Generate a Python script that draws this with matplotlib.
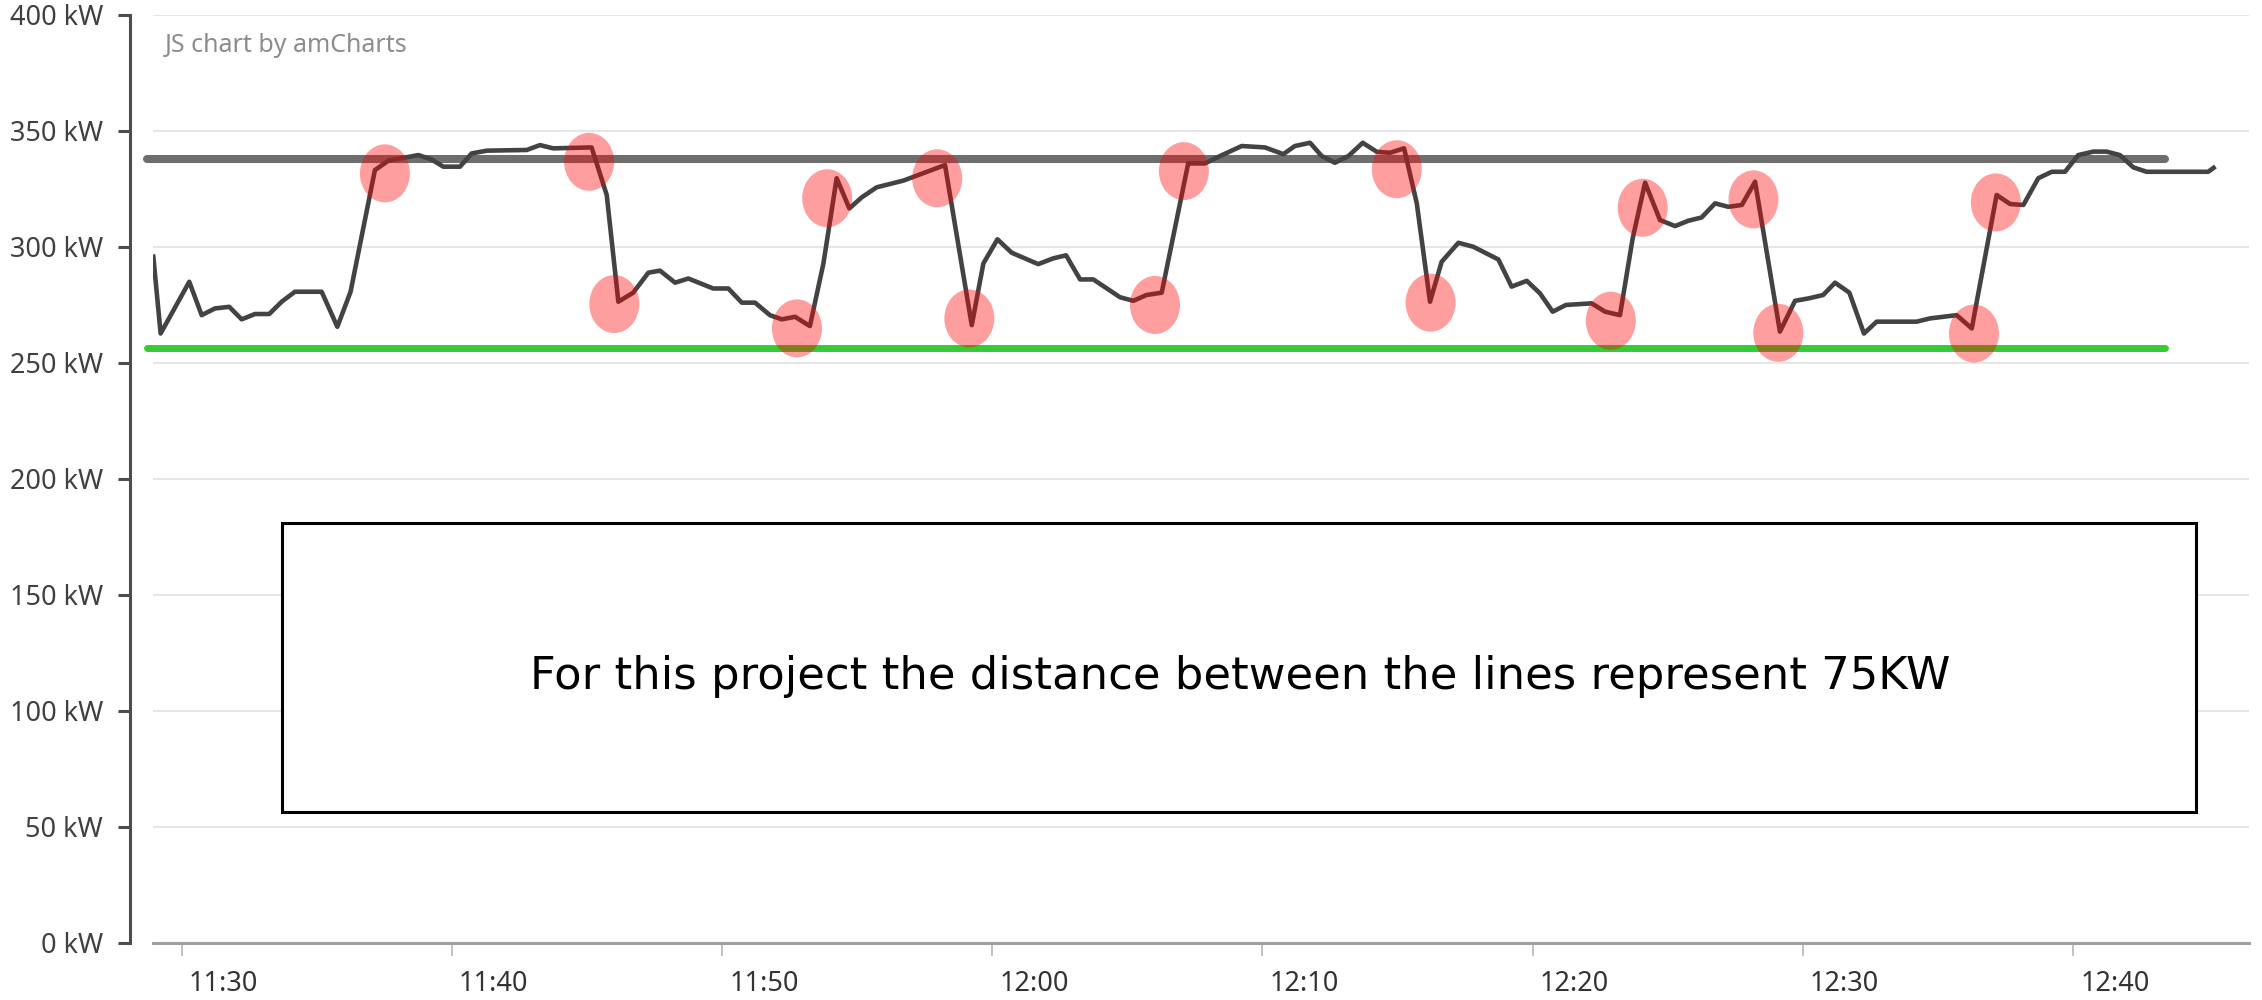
import matplotlib.pyplot as plt
from matplotlib.patches import Ellipse, Rectangle
from matplotlib.transforms import ScaledTranslation

# time is minutes after 11:30, power in kW
minutes = [-1.05, -0.78, 0.28, 0.74, 1.23, 1.76, 2.22, 2.71, 3.24, 3.70, 4.19, 5.18, 5.76, 6.25,
           7.15, 7.65, 8.76, 9.25, 9.68, 10.30, 10.73, 11.29, 12.77, 13.26, 13.75, 15.17, 15.73,
           16.16, 16.71, 17.27, 17.70, 18.26, 18.75, 19.67, 20.23, 20.73, 21.22, 21.77, 22.21,
           22.70, 23.25, 23.75, 24.24, 24.71, 25.17, 25.72, 26.71, 28.25, 29.24, 29.67, 30.19,
           30.72, 31.70, 32.26, 32.73, 33.25, 33.74, 34.73, 35.22, 35.71, 36.27, 37.25, 37.87,
           38.43, 39.23, 40.09, 40.77, 41.20, 41.76, 42.19, 42.68, 43.18, 43.71, 44.23, 44.72,
           45.24, 45.71, 46.20, 46.63, 47.25, 47.80, 48.73, 49.22, 49.78, 50.27, 50.74, 51.23,
           52.18, 52.68, 53.23, 53.70, 54.16, 54.71, 55.27, 55.76, 56.25, 56.75, 57.24, 57.74,
           58.23, 59.15, 59.71, 60.20, 60.75, 61.19, 61.72, 62.26, 62.73, 64.21, 64.70, 65.69,
           66.25, 67.17, 67.67, 68.16, 68.71, 69.21, 69.70, 70.19, 70.75, 71.24, 71.73, 72.23,
           72.72, 75.00, 75.20]
kw = [295.7, 262.6, 284.9, 270.5, 273.4, 274.1, 268.7, 271.0, 271.0, 276.3, 280.6, 280.6, 265.5, 280.6,
      333.0, 337.1, 339.5, 337.6, 334.5, 334.5, 340.2, 341.4, 341.7, 343.8, 342.4, 342.8, 322.3,
      276.3, 280.2, 288.8, 289.7, 284.5, 286.3, 282.0, 282.0, 275.9, 275.9, 270.5, 268.7,
      269.8, 265.8, 292.8, 329.5, 316.5, 321.3, 325.6, 328.5, 335.2, 266.2, 292.8, 303.2,
      297.4, 292.5, 295.0, 296.3, 285.9, 285.9, 278.2, 276.7, 279.2, 280.2, 335.9, 335.9,
      339.1, 343.4, 342.8, 339.9, 343.4, 344.8, 339.1, 336.2, 339.1, 344.8, 340.9, 340.5,
      342.4, 318.7, 276.3, 293.5, 301.7, 300.0, 294.5, 282.8, 285.3, 279.9, 272.0, 274.9,
      275.6, 272.0, 270.5, 303.6, 327.6, 311.5, 308.9, 311.2, 312.6, 318.7, 317.2, 318.0,
      328.0, 263.4, 276.7, 277.7, 279.2, 284.5, 280.2, 262.6, 267.7, 267.7, 269.1, 270.5,
      264.8, 322.3, 318.4, 318.0, 329.5, 332.3, 332.3, 339.5, 341.0, 341.0, 339.5, 334.2,
      332.3, 332.3, 334.0]

peak_kw = 337.8
base_kw = 256.5
guide_span = [-1.3, 73.4]

# red highlights on the jumps
mark_minutes = [7.52, 15.08, 16.01, 22.77, 23.89, 27.96, 29.15, 36.02, 37.09, 44.97,
                46.22, 52.89, 54.07, 58.17, 59.09, 66.33, 67.14]
mark_kw = [331.6, 336.6, 275.3, 264.8, 320.9, 329.5, 269.1, 274.9, 332.6, 333.4,
           275.9, 268.1, 316.8, 320.4, 262.9, 262.6, 319.1]

tick_minutes = [0, 10, 20, 30, 40, 50, 60, 70]
tick_labels = ['11:30', '11:40', '11:50', '12:00', '12:10', '12:20', '12:30', '12:40']
kw_ticks = [0, 50, 100, 150, 200, 250, 300, 350, 400]
kw_labels = ['%d kW' % v for v in kw_ticks]

note = 'For this project the distance between the lines represent 75KW'
credit = 'JS chart by amCharts'

W, H = 2262, 1000
fig = plt.figure(figsize=(W / 100, H / 100), dpi=100)
ax = fig.add_axes([153.3 / W, 1 - 942.8 / H, (2249 - 153.3) / W, (942.8 - 14.7) / H])
ax.set_xlim(-1.051, 76.51)
ax.set_ylim(0, 400)

label_font = ['Noto Sans', 'DejaVu Sans']

ax.set_yticks(kw_ticks, kw_labels)
ax.set_xticks(tick_minutes, tick_labels)
ax.yaxis.grid(True, color='#e6e6e6', lw=1.5)
ax.set_axisbelow(True)

for s in ['top', 'right']:
    ax.spines[s].set_visible(False)
ax.spines['left'].set_position(('outward', 16.8))
ax.spines['left'].set_color('#4d4d4d')
ax.spines['left'].set_linewidth(2.2)
ax.spines['bottom'].set_color('#a0a0a0')
ax.spines['bottom'].set_linewidth(2.2)

ax.tick_params(axis='y', direction='out', length=8.6, width=2.2, color='#4d4d4d',
               pad=10.8, labelsize=19.5, labelcolor='#404040')
ax.tick_params(axis='x', direction='out', length=9.4, width=1.1, color='#b0b0b0',
               pad=10, labelsize=19.5, labelcolor='#333333')

shift = ScaledTranslation(7 / 100, 0, fig.dpi_scale_trans)
for lab in ax.get_xticklabels():
    lab.set_family(label_font)
    lab.set_horizontalalignment('left')
    lab.set_transform(lab.get_transform() + shift)
    if lab.get_text() == '12:00':
        lab.set_fontweight('bold')
for lab in ax.get_yticklabels():
    lab.set_family(label_font)

# guide lines
ax.plot(guide_span, [peak_kw, peak_kw], color='#6e6e6e', lw=5.8,
        solid_capstyle='round', clip_on=False, zorder=2)
ax.plot(guide_span, [base_kw, base_kw], color='#33cc33', lw=5,
        solid_capstyle='round', clip_on=False, zorder=2)

# power line
ax.plot(minutes, kw, color='#434343', lw=3.3, zorder=3)

for m, k in zip(mark_minutes, mark_kw):
    ax.add_patch(Ellipse((m, k), 1.85, 25, facecolor='red', alpha=0.38, lw=0, zorder=5))

fig.text(165 / W, 1 - 52 / H, credit, fontsize=18, color='#8c8c8c',
         family=label_font, va='baseline', ha='left')

# note box
fig.add_artist(Rectangle((282 / W, 1 - 812 / H), (2196 - 282) / W, (812 - 523) / H,
                         transform=fig.transFigure, facecolor='white',
                         edgecolor='black', lw=2.2, zorder=6))
fig.text(1240 / W, 1 - 677 / H, note, fontsize=32.3, color='black',
         family='DejaVu Sans', ha='center', va='center', zorder=7)

fig.savefig('out.png', dpi=100)
